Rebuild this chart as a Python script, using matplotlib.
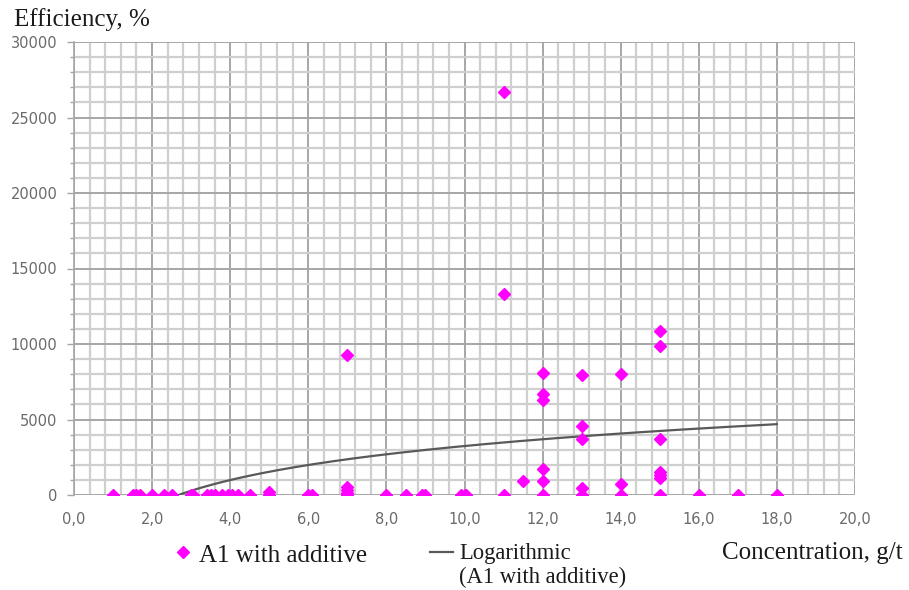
import numpy as np
import matplotlib
matplotlib.use("Agg")
import matplotlib.pyplot as plt
from matplotlib.lines import Line2D
from matplotlib.ticker import MultipleLocator, FuncFormatter

# Concentration (g/t) and efficiency (%) for A1 with additive
concentration = [1.0, 1.5, 1.6, 1.7, 2.0, 2.3, 2.5, 3.0, 3.05, 3.4, 3.5, 3.6, 3.8,
                 3.95, 4.05, 4.2, 4.5, 5.0, 5.0, 6.0, 6.1,
                 7.0, 7.0, 7.0, 7.0, 7.0, 8.0, 8.5, 8.9, 9.0, 9.9, 10.0, 10.05,
                 11.0, 11.0, 11.0, 11.5,
                 12.0, 12.0, 12.0, 12.0, 12.0, 12.0,
                 13.0, 13.0, 13.0, 13.0, 13.0,
                 14.0, 14.0, 14.0,
                 15.0, 15.0, 15.0, 15.0, 15.0, 15.0, 15.0,
                 16.0, 17.0, 18.0]
efficiency = [0, 0, 0, 0, 0, 0, 0, 0, 0, 0, 0, 0, 0,
              0, 0, 0, 0, 0, 200, 0, 0,
              0, 150, 300, 500, 9300, 0, 0, 0, 0, 0, 0, 0,
              0, 13300, 26700, 950,
              0, 950, 1750, 6300, 6700, 8050,
              0, 480, 3700, 4550, 7950,
              0, 730, 8000,
              0, 1100, 1300, 1550, 3700, 9850, 10850,
              0, 0, 0]

# Logarithmic trend: y = slope * ln(x) + intercept
trend_slope = 2460
trend_intercept = -2420
trend_range = (1.0, 18.0)

x_ticks = [0, 2, 4, 6, 8, 10, 12, 14, 16, 18, 20]
y_ticks = [0, 5000, 10000, 15000, 20000, 25000, 30000]

fig = plt.figure(figsize=(9.09, 5.90), dpi=100)
ax = fig.add_axes([74 / 909, 1 - 495 / 590, (855 - 74) / 909, (495 - 42) / 590])

ax.set_xlim(0, 20)
ax.set_ylim(0, 30000)
ax.set_xticks(x_ticks)
ax.set_yticks(y_ticks)
ax.xaxis.set_minor_locator(MultipleLocator(0.4))
ax.yaxis.set_minor_locator(MultipleLocator(1000))
ax.xaxis.set_major_formatter(FuncFormatter(lambda v, p: f"{v:.1f}".replace(".", ",")))
ax.yaxis.set_major_formatter(FuncFormatter(lambda v, p: f"{int(v)}"))

ax.grid(which="minor", color="#cfcfcf", linewidth=1.6, zorder=0)
ax.grid(which="major", color="#a6a6a6", linewidth=1.4, zorder=0)
ax.set_axisbelow(True)

for s in ["top", "right", "bottom"]:
    ax.spines[s].set_visible(False)
ax.spines["left"].set_color("#a6a6a6")
ax.spines["left"].set_linewidth(1.2)

ax.tick_params(axis="x", which="both", length=0, pad=12, labelsize=10.5, labelcolor="#6a6a6a")
ax.tick_params(axis="y", which="major", length=5, width=1, color="#a6a6a6", pad=7,
               labelsize=10.5, labelcolor="#6a6a6a")
ax.tick_params(axis="y", which="minor", length=3, width=1, color="#a6a6a6")
for lab in ax.get_xticklabels() + ax.get_yticklabels():
    lab.set_family("DejaVu Sans")

# Data points
ax.plot(concentration, efficiency, linestyle="none", marker="D", markersize=6.5,
        color="#ff00ff", markeredgecolor="#ff00ff", markeredgewidth=1.0, zorder=3)

# Trend curve
xt = np.linspace(trend_range[0], trend_range[1], 300)
yt = trend_slope * np.log(xt) + trend_intercept
ax.plot(xt, yt, color="#595959", linewidth=1.6, zorder=2)

serif = "Liberation Serif"
fig.text(14 / 909, 1 - 20 / 590, "Efficiency, %", family=serif, fontsize=18,
         color="#1a1a1a", ha="left", va="center")
fig.text(722 / 909, 1 - 553 / 590, "Concentration, g/t", family=serif, fontsize=18,
         color="#1a1a1a", ha="left", va="center")

# Legend
fig.add_artist(Line2D([183 / 909], [1 - 552 / 590], marker="D", markersize=6.5,
                      color="#ff00ff", markeredgecolor="#ff00ff", markeredgewidth=1.0,
                      linestyle="none", transform=fig.transFigure))
fig.text(199 / 909, 1 - 556 / 590, "A1 with additive", family=serif, fontsize=18,
         color="#1a1a1a", ha="left", va="center")
fig.add_artist(Line2D([430 / 909, 453 / 909], [1 - 552 / 590, 1 - 552 / 590],
                      color="#595959", linewidth=1.6, transform=fig.transFigure))
fig.text(459 / 909, 1 - 553 / 590, "Logarithmic", family=serif, fontsize=16.3,
         color="#1a1a1a", ha="left", va="center")
fig.text(459 / 909, 1 - 577 / 590, "(A1 with additive)", family=serif, fontsize=16.3,
         color="#1a1a1a", ha="left", va="center")

fig.savefig("out.png", dpi=100, facecolor="white")
